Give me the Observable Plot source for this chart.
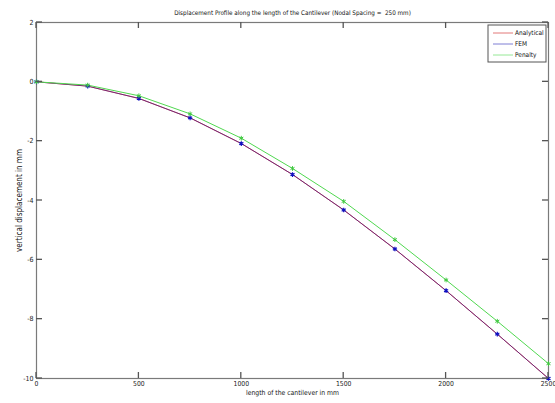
<!DOCTYPE html>
<html>
<head>
<meta charset="utf-8">
<script src="https://cdn.jsdelivr.net/npm/d3@7"></script>
<script src="https://cdn.jsdelivr.net/npm/@observablehq/plot@0.6"></script>
<style>
  html, body { margin: 0; padding: 0; background: #fff; }
</style>
</head>
<body>
<div id="chart"></div>
<script>
const titleText = "Displacement Profile along the length of the Cantilever (Nodal Spacing =  250 mm)";
const xLabel = "length of the cantilever in mm";
const yLabel = "vertical displacement in mm";
const positions = [0, 250, 500, 750, 1000, 1250, 1500, 1750, 2000, 2250, 2500];
const analytical = [0, -0.145, -0.56, -1.215, -2.08, -3.125, -4.32, -5.635, -7.04, -8.505, -10];
const fem = [0, -0.145, -0.56, -1.215, -2.08, -3.125, -4.32, -5.635, -7.04, -8.505, -10];
const penalty = [0, -0.11, -0.47, -1.08, -1.9, -2.92, -4.03, -5.32, -6.68, -8.07, -9.5];
const xTicks = [0, 500, 1000, 1500, 2000, 2500];
const yTicks = [-10, -8, -6, -4, -2, 0, 2];
const seriesNames = ["Analytical", "FEM", "Penalty"];
const seriesColors = ["#d02020", "#2828b8", "#50d850"];

const rows = (vals) => positions.map((x, i) => ({x, y: vals[i]}));
const font = "'Liberation Sans Narrow', 'DejaVu Sans Condensed', 'Roboto Condensed', sans-serif";
const axisGray = "#555555";
const W = 555, H = 403, ML = 36, MR = 7, MT = 22, MB = 25;
const xDom = [0, 2500], yDom = [-10, 2];
const tickLen = 6;

const chart = Plot.plot({
  width: W,
  height: H,
  marginLeft: ML,
  marginRight: MR,
  marginTop: MT,
  marginBottom: MB,
  style: {fontFamily: font, fontSize: "7px", color: "#222", background: "#fff"},
  x: {domain: xDom},
  y: {domain: yDom},
  marks: [
    Plot.frame({stroke: "#7a7a7a", strokeWidth: 1.2}),
    Plot.axisX(xTicks, {tickSize: 0, tickPadding: 3, label: null, fill: "#222", fontSize: 6.8, tickFormat: d => String(d)}),
    Plot.axisY(yTicks, {tickSize: 0, tickPadding: 3, label: null, fill: "#222", fontSize: 7, tickFormat: d => String(d)}),
    Plot.line(rows(analytical), {x: "x", y: "y", stroke: seriesColors[0], strokeWidth: 1}),
    Plot.line(rows(fem), {x: "x", y: "y", stroke: seriesColors[1], strokeWidth: 1, strokeOpacity: 0.55}),
    Plot.line(rows(penalty), {x: "x", y: "y", stroke: seriesColors[2], strokeWidth: 1}),
    Plot.dot(rows(fem), {x: "x", y: "y", symbol: "asterisk", r: 2.2, stroke: "#1010c0", strokeWidth: 1.2}),
    Plot.dot(rows(penalty), {x: "x", y: "y", symbol: "asterisk", r: 2.2, stroke: "#40c840", strokeWidth: 1}),
    Plot.text([titleText], {frameAnchor: "top", dy: -12, fontSize: 6.3, fill: "#111"}),
    Plot.text([xLabel], {frameAnchor: "bottom", dy: 16, fontSize: 6.8, fill: "#111"}),
    Plot.text([yLabel], {frameAnchor: "left", dx: -17, rotate: -90, textAnchor: "middle", fontSize: 8, fill: "#111"})
  ]
});

const svg = d3.select(chart);
const sx = chart.scale("x"), sy = chart.scale("y");
const [fx0, fx1] = sx.range, [fy0, fy1] = sy.range; // fy0 bottom, fy1 top

// Inward-pointing ticks on all four sides (MATLAB box style)
const tg = svg.append("g").attr("stroke", axisGray).attr("stroke-width", 1.3).attr("fill", "none");
xTicks.forEach(v => {
  const px = sx.apply(v);
  tg.append("line").attr("x1", px).attr("x2", px).attr("y1", fy0).attr("y2", fy0 - tickLen);
  tg.append("line").attr("x1", px).attr("x2", px).attr("y1", fy1).attr("y2", fy1 + tickLen);
});
yTicks.forEach(v => {
  const py = sy.apply(v);
  tg.append("line").attr("x1", fx0).attr("x2", fx0 + tickLen).attr("y1", py).attr("y2", py);
  tg.append("line").attr("x1", fx1).attr("x2", fx1 - tickLen).attr("y1", py).attr("y2", py);
});

// Legend box (MATLAB style, inside top-right)
const lg = svg.append("g").attr("font-family", font).attr("font-size", 6.5).attr("fill", "#111").attr("text-anchor", "start");
const bx = 488, by = 25, bw = 58, bh = 37;
lg.append("rect").attr("x", bx).attr("y", by).attr("width", bw).attr("height", bh)
  .attr("fill", "#fff").attr("stroke", "#555").attr("stroke-width", 1);
seriesNames.forEach((name, i) => {
  const yy = by + 8 + i * 11;
  lg.append("line").attr("x1", bx + 5).attr("x2", bx + 25).attr("y1", yy).attr("y2", yy)
    .attr("stroke", seriesColors[i]).attr("stroke-opacity", 0.6).attr("stroke-width", 1);
  lg.append("text").attr("x", bx + 27).attr("y", yy).attr("dy", "0.35em").text(name);
});

document.getElementById("chart").appendChild(chart);
</script>
</body>
</html>
